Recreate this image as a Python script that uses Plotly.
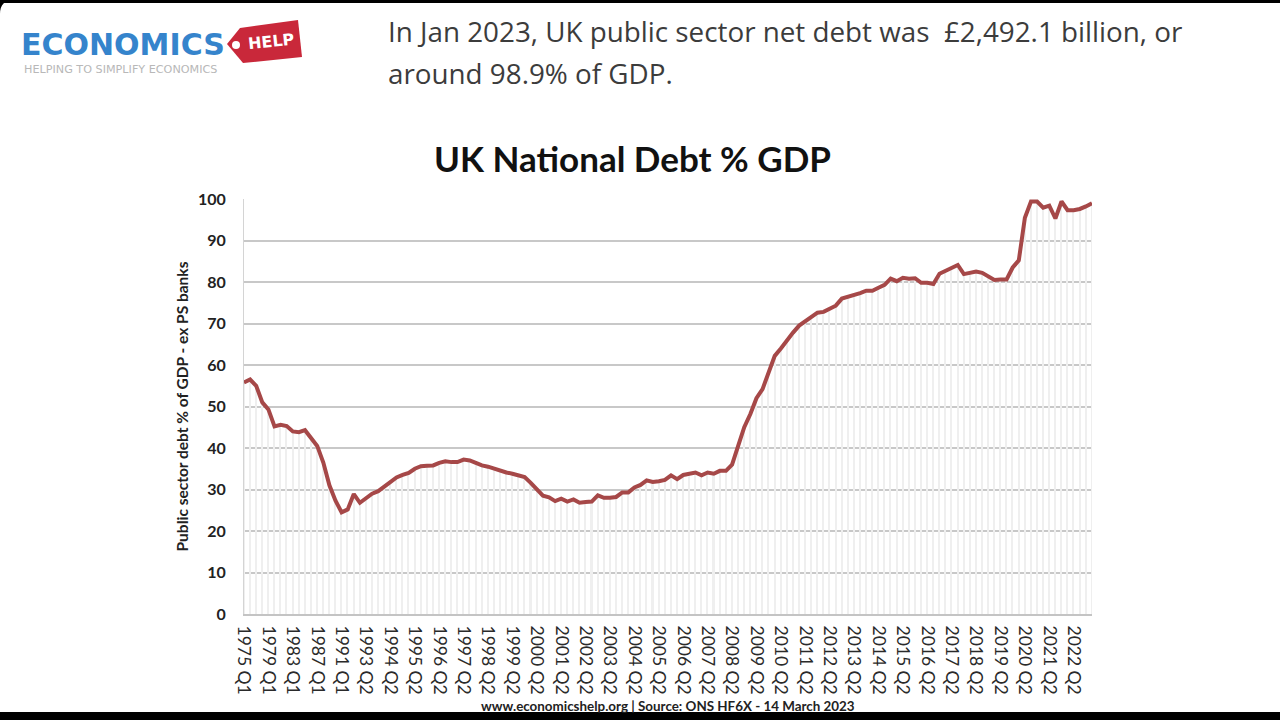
import plotly.graph_objects as go

# ---------------- data ----------------
annual_years = list(range(1975, 1992))          # annual points, labelled "YYYY Q1"
quarterly_start = (1992, 3)
quarterly_end = (2023, 1)

tick_labels = [
    "1975 Q1", "1979 Q1", "1983 Q1", "1987 Q1", "1991 Q1",
    "1993 Q2", "1994 Q2", "1995 Q2", "1996 Q2", "1997 Q2", "1998 Q2",
    "1999 Q2", "2000 Q2", "2001 Q2", "2002 Q2", "2003 Q2", "2004 Q2",
    "2005 Q2", "2006 Q2", "2007 Q2", "2008 Q2", "2009 Q2", "2010 Q2",
    "2011 Q2", "2012 Q2", "2013 Q2", "2014 Q2", "2015 Q2", "2016 Q2",
    "2017 Q2", "2018 Q2", "2019 Q2", "2020 Q2", "2021 Q2", "2022 Q2",
]

debt_pct = [
    55.8, 56.5, 55.0, 51.0, 49.3, 45.2, 45.6, 45.3, 44.0, 43.8,
    44.3, 42.2, 40.5, 36.5, 31.0, 27.3, 24.5, 25.2, 28.9, 26.8,
    27.8, 29.0, 29.6, 30.8, 32.0, 32.9, 33.5, 34.0, 35.0, 35.6,
    35.7, 35.8, 36.4, 36.8, 36.6, 36.6, 37.2, 37.0, 36.4, 35.8,
    35.5, 35.0, 34.5, 34.1, 33.8, 33.3, 33.0, 31.6, 30.0, 28.5,
    28.1, 27.2, 27.8, 27.1, 27.6, 26.8, 27.0, 27.1, 28.6, 28.0,
    28.0, 28.2, 29.3, 29.3, 30.5, 31.1, 32.2, 31.8, 32.0, 32.3,
    33.4, 32.5, 33.5, 33.8, 34.1, 33.4, 34.1, 33.8, 34.5, 34.5,
    36.0, 40.5, 45.0, 48.2, 52.0, 54.2, 58.5, 62.2, 64.0, 66.0,
    67.8, 69.5, 70.5, 71.5, 72.6, 72.8, 73.5, 74.3, 76.0, 76.4,
    77.0, 77.3, 77.9, 77.9, 78.6, 79.3, 80.8, 80.2, 81.0, 80.8,
    80.9, 79.8, 79.8, 79.5, 82.0, 82.7, 83.4, 84.1, 81.9, 82.3,
    82.5, 82.2, 81.4, 80.5, 80.6, 80.6, 83.5, 85.2, 95.5, 99.4,
    99.4, 97.9, 98.4, 95.3, 99.4, 97.3, 97.3, 97.6, 98.2, 99.0,
]

# category labels for each observation
categories = [f"{y} Q1" for y in annual_years]
y, q = quarterly_start
while (y, q) <= quarterly_end:
    categories.append(f"{y} Q{q}")
    q += 1
    if q > 4:
        q = 1
        y += 1

# ---------------- geometry helpers (pixel -> paper) ----------------
W, H = 1280, 720
L, R, T, B = 244, 1092, 199, 614


def px(x):
    return (x - L) / (R - L)


def py(yv):
    return (B - yv) / (B - T)


LINE_COLOR = "#a64848"
CHART_FONT = "Lato"

fig = go.Figure()

fig.add_trace(go.Bar(
    x=categories, y=debt_pct, width=0.25,
    marker=dict(color="#efefef", line=dict(width=0)),
    hoverinfo="skip", showlegend=False,
))
fig.add_trace(go.Scatter(
    x=categories, y=debt_pct, mode="lines",
    line=dict(color=LINE_COLOR, width=4),
    showlegend=False, name="Debt % GDP",
))

shapes = []
# screen frame (black bands)
shapes.append(dict(type="rect", xref="paper", yref="paper",
                   x0=px(0), x1=px(W), y0=py(0), y1=py(3),
                   fillcolor="black", line=dict(width=0), layer="above"))
shapes.append(dict(type="rect", xref="paper", yref="paper",
                   x0=px(0), x1=px(W), y0=py(712), y1=py(H),
                   fillcolor="black", line=dict(width=0), layer="above"))
shapes.append(dict(type="path", xref="paper", yref="paper",
                   path=f"M {px(0)},{py(0)} L {px(14)},{py(0)} Q {px(0)},{py(0)} {px(0)},{py(14)} Z",
                   fillcolor="black", line=dict(width=0), layer="above"))
# red "HELP" tag
tag = [(227, 44), (240, 28), (298, 20), (302, 57), (243, 63)]
path = "M " + " L ".join(f"{px(a)},{py(b)}" for a, b in tag) + " Z"
shapes.append(dict(type="path", xref="paper", yref="paper", path=path,
                   fillcolor="#c9283a", line=dict(width=0), layer="above"))
shapes.append(dict(type="circle", xref="paper", yref="paper",
                   x0=px(232), x1=px(240), y0=py(41), y1=py(49),
                   fillcolor="white", line=dict(width=0), layer="above"))

annotations = [
    dict(text="UK National Debt % GDP", x=px(632), y=py(158),
         font=dict(family=CHART_FONT, size=35, color="#111111", weight="bold"),
         xanchor="center", yanchor="middle"),
    dict(text="In Jan 2023, UK public sector net debt was  £2,492.1 billion, or",
         x=px(386), y=py(31), xanchor="left", yanchor="middle",
         font=dict(family="Open Sans", size=27.8, color="#3c3c3c")),
    dict(text="around 98.9% of GDP.",
         x=px(386), y=py(73), xanchor="left", yanchor="middle",
         font=dict(family="Open Sans", size=27.8, color="#3c3c3c")),
    dict(text="www.economicshelp.org | Source: ONS HF6X - 14 March 2023",
         x=px(668), y=py(706), xanchor="center", yanchor="middle",
         font=dict(family=CHART_FONT, size=13.4, color="#222222", weight="bold")),
    dict(text="ECONOMICS", x=px(19), y=py(44), xanchor="left", yanchor="middle",
         font=dict(family="DejaVu Sans", size=30, color="#3584cc", weight="bold")),
    dict(text="HELPING TO SIMPLIFY ECONOMICS", x=px(22), y=py(69),
         xanchor="left", yanchor="middle",
         font=dict(family="DejaVu Sans", size=11.2, color="#b8b8b8")),
    dict(text="HELP", x=px(271), y=py(41), xanchor="center", yanchor="middle",
         textangle=-6,
         font=dict(family="DejaVu Sans", size=16, color="white", weight="bold")),
]
for a in annotations:
    a.update(xref="paper", yref="paper", showarrow=False)

fig.update_layout(
    width=W, height=H,
    margin=dict(l=L, r=W - R, t=T, b=H - B, pad=0),
    paper_bgcolor="white", plot_bgcolor="white",
    shapes=shapes, annotations=annotations,
    bargap=0,
    xaxis=dict(
        type="category", range=[0, len(categories) - 1],
        tickmode="array", tickvals=tick_labels, ticktext=tick_labels,
        tickangle=90, ticks="", showgrid=False, ticklabelstandoff=6,
        showline=True, linecolor="#c4c4c4", linewidth=2,
        tickfont=dict(family=CHART_FONT, size=17.5, color="#2a2a2a"),
        automargin=False, fixedrange=True,
    ),
    yaxis=dict(
        range=[0, 100], dtick=10, tick0=0,
        showgrid=True, gridcolor="#c8c8c8", gridwidth=2,
        zeroline=False, showline=True, linecolor="#d4d4d4", linewidth=1,
        ticks="", ticklabelstandoff=14,
        tickfont=dict(family=CHART_FONT, size=16, color="#222222", weight="bold"),
        title=dict(text="Public sector debt % of GDP - ex PS banks", standoff=5,
                   font=dict(family=CHART_FONT, size=15.5, color="#222222", weight="bold")),
        automargin=False, fixedrange=True,
    ),
)

fig.write_html("out.html")
